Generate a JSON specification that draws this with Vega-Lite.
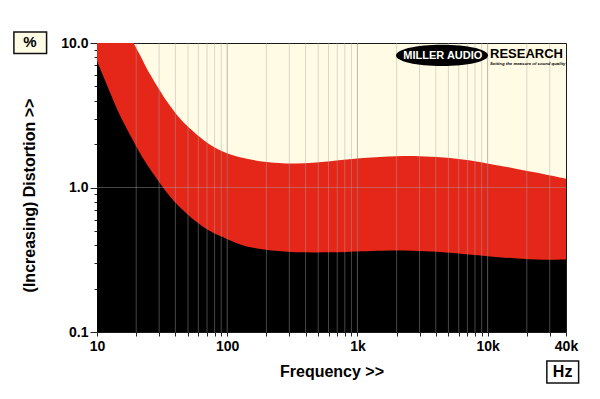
{
  "$schema": "https://vega.github.io/schema/vega-lite/v6.json",
  "autosize": "none",
  "width": 469,
  "height": 289,
  "padding": {"left": 97, "top": 43, "right": 34, "bottom": 67},
  "background": "#ffffff",
  "view": {"fill": "#fffbe4", "stroke": "#1a1a1a", "strokeWidth": 1},
  "config": {
    "font": "Liberation Sans",
    "axis": {"labelFont": "Liberation Sans", "titleFont": "Liberation Sans"}
  },
  "datasets": {
    "upper": [{"f":10,"v":30},{"f":14,"v":17},{"f":19,"v":10},{"f":21.4,"v":8.3},{"f":23.4,"v":7.0},{"f":26,"v":5.9},{"f":29.6,"v":4.85},{"f":33.3,"v":4.1},{"f":39.7,"v":3.3},{"f":45,"v":2.88},{"f":53.3,"v":2.5},{"f":60,"v":2.27},{"f":71.6,"v":2.0},{"f":88,"v":1.8},{"f":108,"v":1.67},{"f":140,"v":1.58},{"f":173,"v":1.52},{"f":254,"v":1.47},{"f":332,"v":1.46},{"f":458,"v":1.48},{"f":620,"v":1.52},{"f":828,"v":1.56},{"f":1100,"v":1.6},{"f":1493,"v":1.63},{"f":2000,"v":1.65},{"f":2688,"v":1.66},{"f":4063,"v":1.63},{"f":6506,"v":1.57},{"f":9840,"v":1.47},{"f":15750,"v":1.36},{"f":28430,"v":1.23},{"f":40000,"v":1.15}],
    "lower": [{"f":10,"v":7.5},{"f":11,"v":6.1},{"f":12.5,"v":4.6},{"f":14,"v":3.6},{"f":16,"v":2.8},{"f":18,"v":2.3},{"f":20,"v":1.92},{"f":22.5,"v":1.6},{"f":25,"v":1.38},{"f":30,"v":1.09},{"f":35,"v":0.9},{"f":40,"v":0.78},{"f":50,"v":0.645},{"f":60,"v":0.565},{"f":70,"v":0.51},{"f":80,"v":0.478},{"f":95,"v":0.45},{"f":125,"v":0.402},{"f":150,"v":0.385},{"f":190,"v":0.372},{"f":250,"v":0.362},{"f":300,"v":0.358},{"f":450,"v":0.355},{"f":600,"v":0.356},{"f":830,"v":0.358},{"f":1100,"v":0.362},{"f":1500,"v":0.366},{"f":2700,"v":0.366},{"f":4000,"v":0.36},{"f":6500,"v":0.346},{"f":10000,"v":0.335},{"f":15700,"v":0.323},{"f":28000,"v":0.314},{"f":40000,"v":0.318}],
    "grid": [{"g":20},{"g":30},{"g":40},{"g":50},{"g":60},{"g":70},{"g":80},{"g":90},{"g":100},{"g":200},{"g":300},{"g":400},{"g":500},{"g":600},{"g":700},{"g":800},{"g":900},{"g":1000},{"g":2000},{"g":3000},{"g":4000},{"g":5000},{"g":6000},{"g":7000},{"g":8000},{"g":9000},{"g":10000},{"g":20000},{"g":30000}],
    "one": [{}]
  },
  "layer": [
    {
      "data": {"name": "upper"},
      "mark": {"type": "area", "color": "#e5271a", "interpolate": "basis", "clip": true},
      "encoding": {
        "x": {
          "field": "f", "type": "quantitative",
          "scale": {"type": "log", "domain": [10, 40000], "nice": false},
          "axis": {
            "title": "Frequency >>",
            "titleFontSize": 16, "titleFontWeight": "bold", "titleColor": "#000",
            "titleY": 31, "titleBaseline": "top",
            "values": [10,20,30,40,50,60,70,80,90,100,200,300,400,500,600,700,800,900,1000,2000,3000,4000,5000,6000,7000,8000,9000,10000,20000,30000,40000],
            "labelExpr": "datum.value==10 ? '10' : datum.value==100 ? '100' : datum.value==1000 ? '1k' : datum.value==10000 ? '10k' : datum.value==40000 ? '40k' : ''",
            "labelFontSize": 14, "labelFontWeight": "bold", "labelColor": "#000",
            "labelOverlap": false, "labelFlush": false, "labelPadding": 3,
            "tickSize": 4, "tickColor": "#222", "domain": false, "grid": false
          }
        },
        "y": {
          "field": "v", "type": "quantitative",
          "scale": {"type": "log", "domain": [0.1, 10], "nice": false},
          "axis": {
            "title": "(Increasing) Distortion >>",
            "titleFontSize": 16, "titleFontWeight": "bold", "titleColor": "#000",
            "titleX": -60, "titleY": 152, "titleBaseline": "bottom", "titleAngle": -90,
            "values": [0.1,0.2,0.3,0.4,0.5,0.6,0.7,0.8,0.9,1,2,3,4,5,6,7,8,9,10],
            "labelExpr": "datum.value==10 ? '10.0' : datum.value==1 ? '1.0' : datum.value==0.1 ? '0.1' : ''",
            "labelFontSize": 14, "labelFontWeight": "bold", "labelColor": "#000",
            "labelOverlap": false, "labelFlush": false, "labelPadding": 2,
            "tickSize": {"condition": {"test": "datum.value==10 || datum.value==1 || datum.value==0.1", "value": 7}, "value": 3},
            "tickColor": "#222", "domain": false, "grid": false
          }
        },
        "y2": {"datum": 0.1}
      }
    },
    {
      "data": {"name": "lower"},
      "mark": {"type": "area", "color": "#000000", "interpolate": "basis", "clip": true},
      "encoding": {
        "x": {"field": "f", "type": "quantitative", "scale": {"type": "log", "domain": [10, 40000], "nice": false}},
        "y": {"field": "v", "type": "quantitative", "scale": {"type": "log", "domain": [0.1, 10], "nice": false}},
        "y2": {"datum": 0.1}
      }
    },
    {
      "data": {"name": "grid"},
      "mark": {"type": "rule", "strokeWidth": 1},
      "encoding": {
        "x": {"field": "g", "type": "quantitative", "scale": {"type": "log", "domain": [10, 40000], "nice": false}},
        "color": {"condition": {"test": "datum.g==100 || datum.g==1000 || datum.g==10000", "value": "#8a8a8a"}, "value": "#a8a8a8"},
        "opacity": {"condition": {"test": "datum.g==100 || datum.g==1000 || datum.g==10000", "value": 0.6}, "value": 0.42}
      }
    },
    {
      "data": {"name": "one"},
      "mark": {"type": "rule", "color": "#a8a8a8", "opacity": 0.42, "strokeWidth": 1},
      "encoding": {
        "y": {"datum": 1, "type": "quantitative", "scale": {"type": "log", "domain": [0.1, 10], "nice": false}}
      }
    },
    {
      "data": {"name": "one"},
      "mark": {"type": "point", "shape": "M-1,0 A1,0.23 0 1,1 1,0 A1,0.23 0 1,1 -1,0 Z", "size": 8464, "filled": true, "color": "#000000", "opacity": 1},
      "encoding": {
        "x": {"datum": 4465, "type": "quantitative", "scale": {"type": "log", "domain": [10, 40000], "nice": false}},
        "y": {"datum": 8.2, "type": "quantitative", "scale": {"type": "log", "domain": [0.1, 10], "nice": false}}
      }
    },
    {
      "data": {"name": "one"},
      "mark": {"type": "text", "text": "MILLER AUDIO", "font": "Liberation Sans", "fontWeight": "bold", "fontSize": 11, "color": "#ffffff", "align": "center", "baseline": "middle"},
      "encoding": {
        "x": {"datum": 4530, "type": "quantitative", "scale": {"type": "log", "domain": [10, 40000], "nice": false}},
        "y": {"datum": 8.15, "type": "quantitative", "scale": {"type": "log", "domain": [0.1, 10], "nice": false}}
      }
    },
    {
      "data": {"name": "one"},
      "mark": {"type": "text", "text": "RESEARCH", "font": "Liberation Sans", "fontWeight": "bold", "fontSize": 13, "color": "#000000", "align": "left", "baseline": "middle"},
      "encoding": {
        "x": {"datum": 10433, "type": "quantitative", "scale": {"type": "log", "domain": [10, 40000], "nice": false}},
        "y": {"datum": 8.4, "type": "quantitative", "scale": {"type": "log", "domain": [0.1, 10], "nice": false}}
      }
    },
    {
      "data": {"name": "one"},
      "mark": {"type": "text", "text": "Setting the measure of sound quality", "font": "Liberation Sans", "fontWeight": "bold", "fontStyle": "italic", "fontSize": 4.3, "color": "#000000", "align": "left", "baseline": "middle"},
      "encoding": {
        "x": {"datum": 10433, "type": "quantitative", "scale": {"type": "log", "domain": [10, 40000], "nice": false}},
        "y": {"datum": 7.1, "type": "quantitative", "scale": {"type": "log", "domain": [0.1, 10], "nice": false}}
      }
    },
    {
      "data": {"name": "one"},
      "mark": {"type": "rect", "fill": "#fffbe4", "stroke": "#111111", "strokeWidth": 1.5},
      "encoding": {
        "x": {"datum": 2.3, "type": "quantitative", "scale": {"type": "log", "domain": [10, 40000], "nice": false}},
        "x2": {"datum": 4.1},
        "y": {"datum": 11.9, "type": "quantitative", "scale": {"type": "log", "domain": [0.1, 10], "nice": false}},
        "y2": {"datum": 8.45}
      }
    },
    {
      "data": {"name": "one"},
      "mark": {"type": "text", "text": "%", "font": "Liberation Sans", "fontWeight": "bold", "fontSize": 15, "color": "#000000", "align": "center", "baseline": "middle"},
      "encoding": {
        "x": {"datum": 3.06, "type": "quantitative", "scale": {"type": "log", "domain": [10, 40000], "nice": false}},
        "y": {"datum": 10.1, "type": "quantitative", "scale": {"type": "log", "domain": [0.1, 10], "nice": false}}
      }
    },
    {
      "data": {"name": "one"},
      "mark": {"type": "rect", "fill": "#ffffff", "stroke": "#111111", "strokeWidth": 1.5},
      "encoding": {
        "x": {"datum": 28500, "type": "quantitative", "scale": {"type": "log", "domain": [10, 40000], "nice": false}},
        "x2": {"datum": 50000},
        "y": {"datum": 0.063, "type": "quantitative", "scale": {"type": "log", "domain": [0.1, 10], "nice": false}},
        "y2": {"datum": 0.0444}
      }
    },
    {
      "data": {"name": "one"},
      "mark": {"type": "text", "text": "Hz", "font": "Liberation Sans", "fontWeight": "bold", "fontSize": 16, "color": "#000000", "align": "center", "baseline": "middle"},
      "encoding": {
        "x": {"datum": 37700, "type": "quantitative", "scale": {"type": "log", "domain": [10, 40000], "nice": false}},
        "y": {"datum": 0.0529, "type": "quantitative", "scale": {"type": "log", "domain": [0.1, 10], "nice": false}}
      }
    }
  ]
}
